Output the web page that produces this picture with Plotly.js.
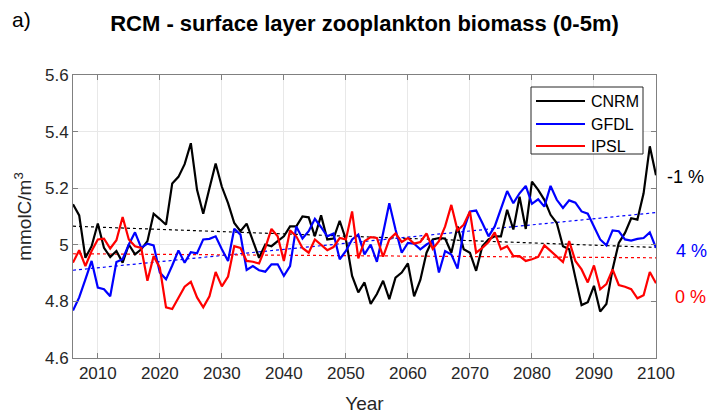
<!DOCTYPE html>
<html>
<head>
<meta charset="utf-8">
<script src="https://cdn.plot.ly/plotly-3.0.1.min.js"></script>
<style>html,body{margin:0;padding:0;background:#fff;}#chart{width:710px;height:419px;}</style>
</head>
<body>
<div id="chart"></div>
<script>
const years = [];
for (let y = 2006; y <= 2100; y++) years.push(y);

const cnrm = [5.143,5.104,4.954,4.995,5.075,4.989,4.957,4.978,4.937,5.001,4.966,4.984,5.013,5.110,5.091,5.071,5.217,5.240,5.285,5.359,
5.194,5.110,5.200,5.287,5.205,5.147,5.077,5.048,5.075,5.013,4.954,5.001,4.995,5.013,5.030,5.065,5.065,5.100,5.097,5.030,
5.104,5.019,5.022,5.085,5.019,4.890,4.832,4.867,4.791,4.826,4.873,4.808,4.884,4.902,4.934,4.818,4.876,4.972,5.019,5.024,
5.022,4.972,5.065,4.984,4.972,4.908,4.995,5.019,5.030,5.030,5.124,5.054,5.170,5.056,5.223,5.194,5.159,5.106,5.077,4.995,
4.984,4.884,4.787,4.797,4.855,4.764,4.791,4.914,5.007,5.042,5.094,5.089,5.182,5.348,5.246];

const gfdl = [4.768,4.814,4.878,4.943,4.849,4.843,4.818,4.939,4.949,5.001,5.044,4.989,5.004,4.998,4.902,4.878,4.927,4.980,4.937,4.974,
4.970,5.019,5.021,5.030,4.984,4.943,5.057,5.036,4.911,4.925,4.910,4.905,4.931,4.931,4.890,4.925,5.065,5.022,5.048,5.092,
5.062,5.030,5.040,4.949,4.978,5.019,5.036,4.966,5.001,4.940,5.042,5.147,5.054,4.972,5.007,5.004,4.984,5.001,5.013,4.902,
4.978,4.966,4.916,5.054,5.118,5.121,5.077,5.030,5.065,5.124,5.190,5.147,5.182,5.208,5.145,5.161,5.135,5.208,5.159,5.130,
5.157,5.149,5.118,5.110,5.065,5.019,4.998,5.051,5.048,5.019,5.015,5.021,5.024,5.044,4.989];

const ipsl = [4.937,4.981,4.925,4.978,5.019,5.022,4.987,5.016,5.098,5.019,4.995,4.989,4.873,4.960,4.919,4.779,4.773,4.814,4.852,4.869,
4.814,4.779,4.818,4.904,4.853,4.888,4.995,4.989,4.943,4.940,4.934,4.989,5.056,5.030,4.943,5.051,5.030,4.989,4.972,5.019,
5.001,4.981,4.992,5.024,5.019,5.118,4.952,5.013,5.027,5.024,4.958,5.019,5.040,5.010,5.024,5.004,5.010,5.040,4.986,5.013,
5.065,5.141,5.051,5.071,5.118,4.972,4.989,5.010,5.044,4.984,4.995,4.960,4.960,4.943,4.949,4.957,4.998,4.978,4.958,4.939,
5.013,4.943,4.913,4.867,4.927,4.843,4.861,4.913,4.858,4.852,4.843,4.811,4.822,4.904,4.864];

const seriesNames = ['CNRM', 'GFDL', 'IPSL'];
const seriesColors = ['#000000', '#0000ff', '#ff0000'];
const trendLabels = ['-1 %', '4 %', '0 %'];
const yTicks = [4.6, 4.8, 5.0, 5.2, 5.4, 5.6];
const yTickText = ['4.6', '4.8', '5', '5.2', '5.4', '5.6'];
const xTicks = [2010, 2020, 2030, 2040, 2050, 2060, 2070, 2080, 2090, 2100];

function linfit(x, y) {
  const n = x.length;
  let sx = 0, sy = 0, sxx = 0, sxy = 0;
  for (let i = 0; i < n; i++) { sx += x[i]; sy += y[i]; sxx += x[i]*x[i]; sxy += x[i]*y[i]; }
  const b = (n*sxy - sx*sy) / (n*sxx - sx*sx);
  const a = (sy - b*sx) / n;
  return x.map(v => a + b*v);
}

const allData = [cnrm, gfdl, ipsl];
const traces = [];
allData.forEach((d, i) => {
  traces.push({x: years, y: linfit(years, d), mode: 'lines', showlegend: false, hoverinfo: 'skip',
    line: {color: seriesColors[i], width: 1.2, dash: 'dot'}});
});
allData.forEach((d, i) => {
  traces.push({x: years, y: d, mode: 'lines', name: seriesNames[i], showlegend: false,
    line: {color: seriesColors[i], width: 2.2}});
});

const fontFam = 'Liberation Sans, Arial, Helvetica, sans-serif';
const axisCol = '#262626';

// pixel -> paper helpers (plot area: x 73..656, y 75..358)
const L = 73, W = 583, B = 358, H = 283;
const px = v => (v - L) / W;
const py = v => (B - v) / H;

const annos = [
  {text: 'a)', xref: 'paper', yref: 'paper', x: px(10), y: py(20), xanchor: 'left', yanchor: 'middle', showarrow: false,
   font: {family: fontFam, size: 21, color: '#000'}},
  {text: trendLabels[0], xref: 'paper', yref: 'paper', x: px(685), y: py(177), xanchor: 'center', yanchor: 'middle', showarrow: false,
   font: {family: fontFam, size: 18, color: seriesColors[0]}},
  {text: trendLabels[1], xref: 'paper', yref: 'paper', x: px(691), y: py(251), xanchor: 'center', yanchor: 'middle', showarrow: false,
   font: {family: fontFam, size: 18, color: seriesColors[1]}},
  {text: trendLabels[2], xref: 'paper', yref: 'paper', x: px(690), y: py(297), xanchor: 'center', yanchor: 'middle', showarrow: false,
   font: {family: fontFam, size: 18, color: seriesColors[2]}}
];

// custom legend (box + line samples + names)
const shapes = [
  {type: 'rect', xref: 'paper', yref: 'paper', x0: px(531), x1: px(643), y0: py(87), y1: py(154),
   fillcolor: '#ffffff', line: {color: '#262626', width: 1}, layer: 'above'}
];
const legY = [101, 124, 146];
seriesNames.forEach((n, i) => {
  shapes.push({type: 'line', xref: 'paper', yref: 'paper', x0: px(536), x1: px(585), y0: py(legY[i]), y1: py(legY[i]),
    line: {color: seriesColors[i], width: 2.2}, layer: 'above'});
  annos.push({text: n, xref: 'paper', yref: 'paper', x: px(589), y: py(legY[i]), xanchor: 'left', yanchor: 'middle',
    showarrow: false, font: {family: fontFam, size: 16, color: '#000'}});
});

const layout = {
  width: 710, height: 419,
  margin: {l: 73, r: 54, t: 75, b: 61, pad: 0},
  paper_bgcolor: '#fff', plot_bgcolor: '#fff',
  font: {family: fontFam, color: axisCol},
  title: {text: '<b>RCM - surface layer zooplankton biomass (0-5m)</b>', x: 0.5, xref: 'paper', xanchor: 'center',
    y: 1 - 23/419, yref: 'container', yanchor: 'middle', font: {family: fontFam, size: 22, color: '#000'}},
  xaxis: {range: [2006, 2100], tickvals: xTicks, ticktext: xTicks.map(String), ticks: 'inside', ticklen: 5,
    tickcolor: '#808080', showline: true, linecolor: '#808080', linewidth: 1, mirror: 'ticks',
    showgrid: true, gridcolor: '#e8e8e8', zeroline: false, tickfont: {size: 17, color: axisCol},
    title: {text: 'Year', font: {size: 19, color: axisCol}, standoff: 14}},
  yaxis: {range: [4.6, 5.6], tickvals: yTicks, ticktext: yTickText, ticks: 'inside', ticklen: 5,
    tickcolor: '#808080', showline: true, linecolor: '#808080', linewidth: 1, mirror: 'ticks',
    showgrid: true, gridcolor: '#e8e8e8', zeroline: false, tickfont: {size: 17, color: axisCol},
    title: {text: 'mmolC/m<sup>3</sup>', font: {size: 19, color: axisCol}, standoff: 8}},
  annotations: annos,
  shapes: shapes,
  showlegend: false
};

Plotly.newPlot('chart', traces, layout, {displayModeBar: false, staticPlot: true});
</script>
</body>
</html>
